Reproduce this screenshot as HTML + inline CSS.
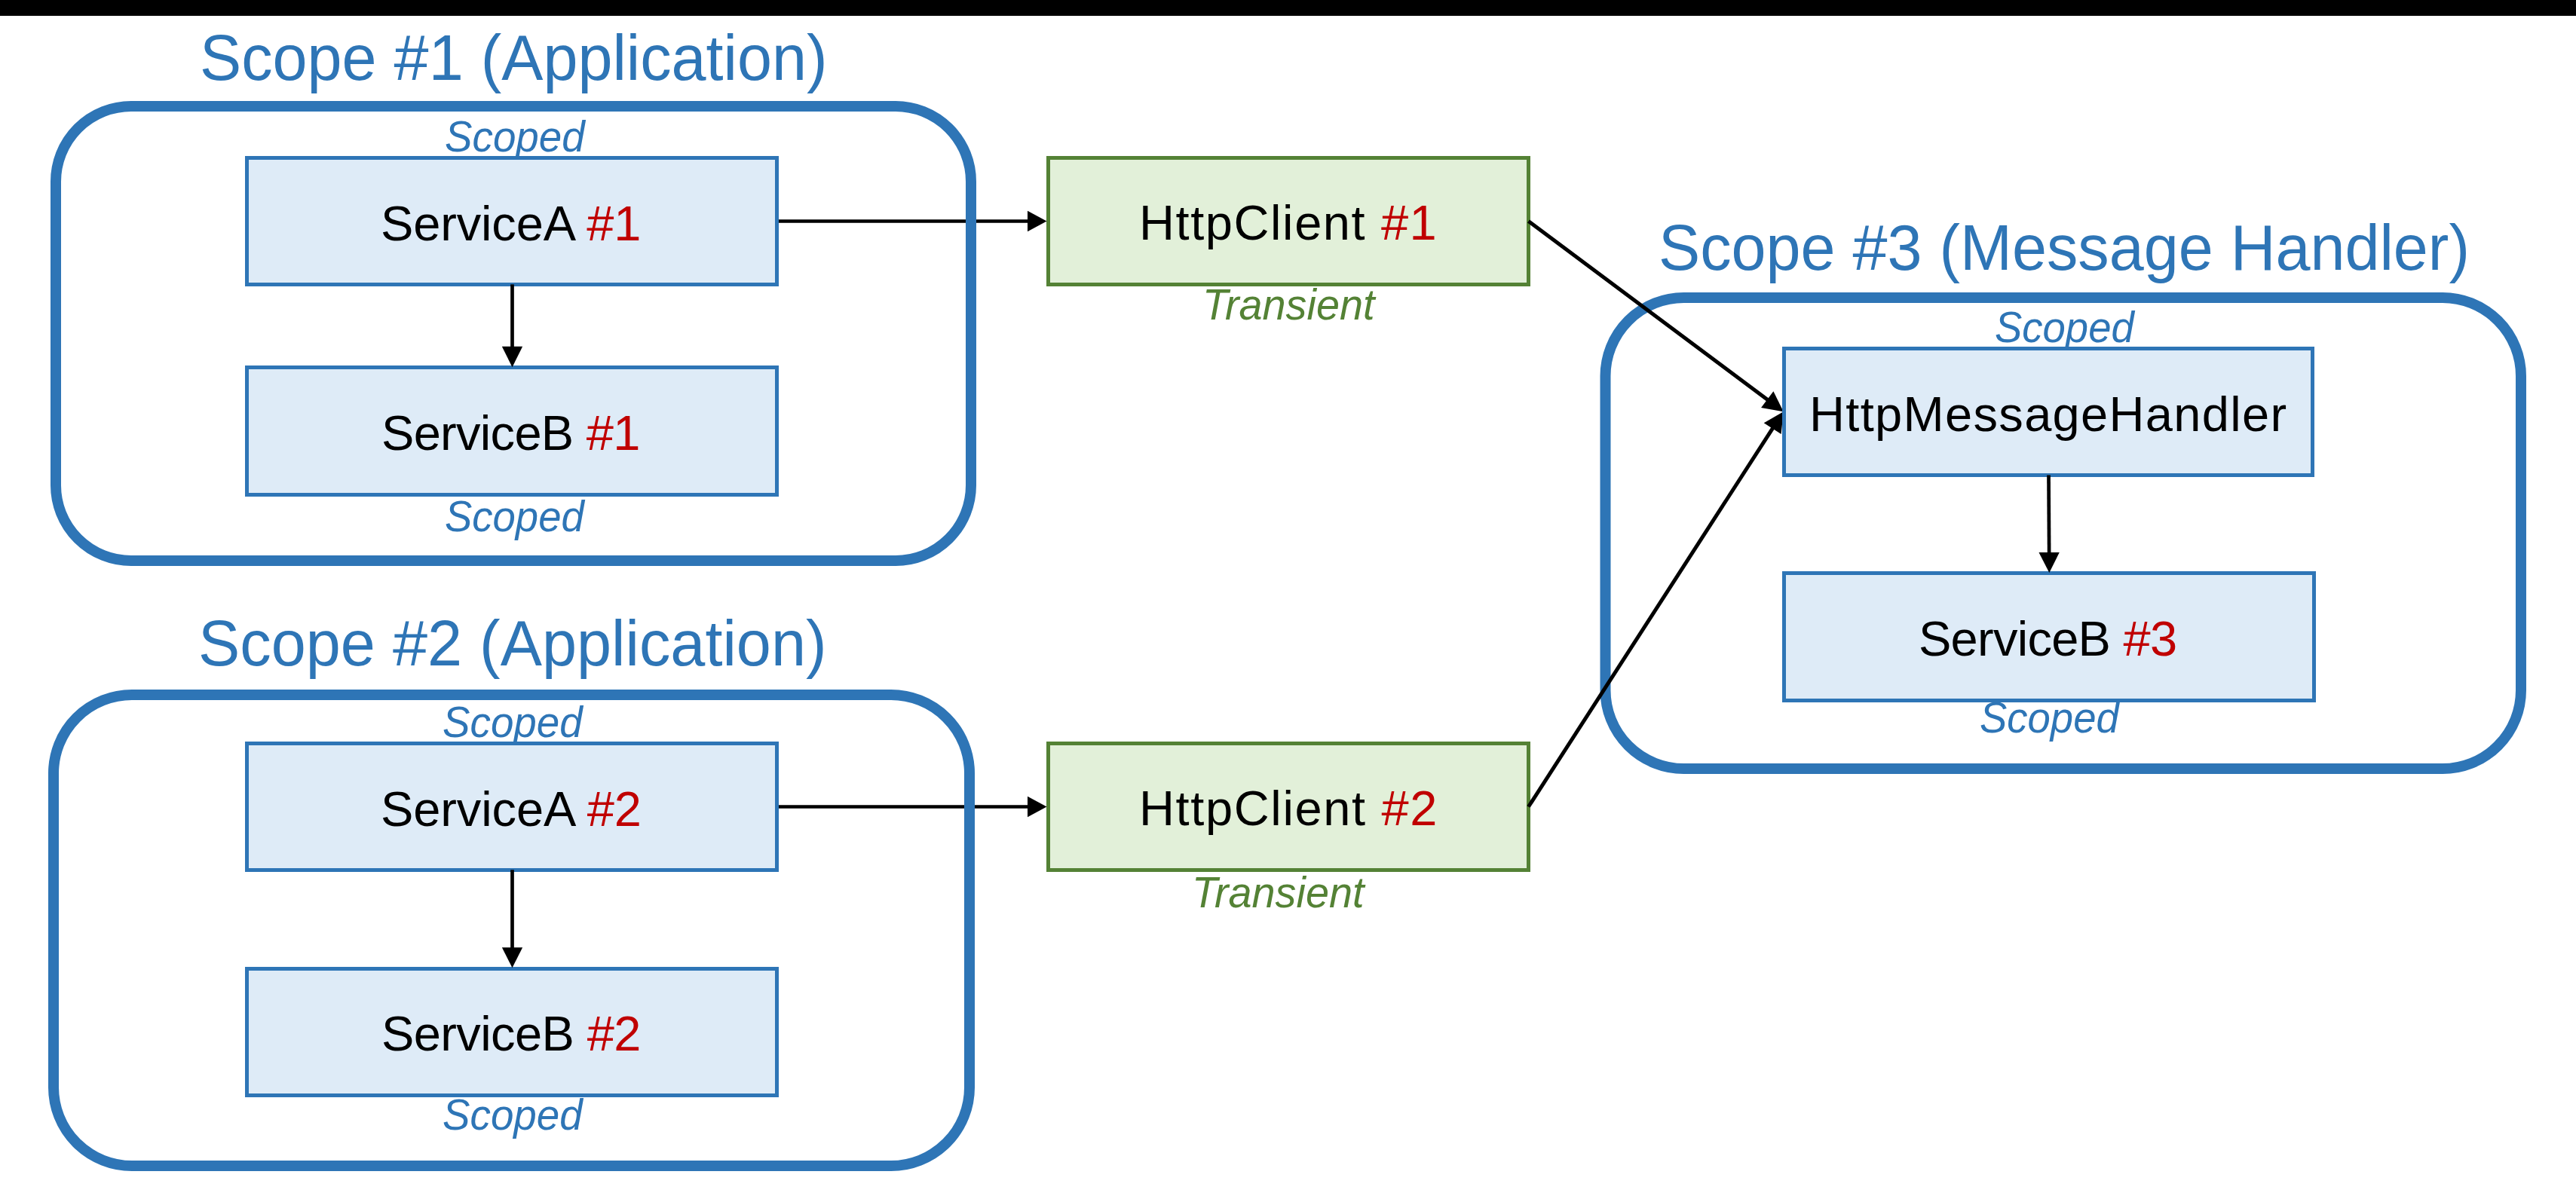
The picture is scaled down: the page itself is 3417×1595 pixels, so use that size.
<!DOCTYPE html>
<html><head><meta charset="utf-8"><style>
html,body{margin:0;padding:0;background:#fff;width:3417px;height:1595px;overflow:hidden}
svg{display:block;font-family:"Liberation Sans",sans-serif}
</style></head><body>
<svg width="3417" height="1595" viewBox="0 0 3417 1595">
<rect x="0" y="0" width="3417" height="21" fill="#000"/>
<text id="t1" x="265.0" y="106" font-size="84.8" fill="#2E75B6" style="" textLength="832.59" lengthAdjust="spacingAndGlyphs">Scope #1 (Application)</text>
<text id="t2" x="263.0" y="882.8" font-size="84.8" fill="#2E75B6" style="" textLength="833.59" lengthAdjust="spacingAndGlyphs">Scope #2 (Application)</text>
<text id="t3" x="2200.0" y="358" font-size="84.8" fill="#2E75B6" style="" textLength="1075.95" lengthAdjust="spacingAndGlyphs">Scope #3 (Message Handler)</text>
<text id="s1t" x="590.0" y="201.2" font-size="58" fill="#2E75B6" style="font-style:italic;" textLength="185.72" lengthAdjust="spacingAndGlyphs">Scoped</text>
<text id="s1b" x="590.0" y="704.6" font-size="58" fill="#2E75B6" style="font-style:italic;" textLength="184.72" lengthAdjust="spacingAndGlyphs">Scoped</text>
<text id="s2t" x="587.0" y="978.3" font-size="58" fill="#2E75B6" style="font-style:italic;" textLength="185.72" lengthAdjust="spacingAndGlyphs">Scoped</text>
<text id="s2b" x="587.0" y="1499.4" font-size="58" fill="#2E75B6" style="font-style:italic;" textLength="185.72" lengthAdjust="spacingAndGlyphs">Scoped</text>
<text id="s3t" x="2646.0" y="454.4" font-size="58" fill="#2E75B6" style="font-style:italic;" textLength="184.72" lengthAdjust="spacingAndGlyphs">Scoped</text>
<text id="s3b" x="2626.0" y="972.3" font-size="58" fill="#2E75B6" style="font-style:italic;" textLength="184.72" lengthAdjust="spacingAndGlyphs">Scoped</text>
<text id="tr1" x="1595.0" y="424.2" font-size="58" fill="#548235" style="font-style:italic;" textLength="228.47" lengthAdjust="spacingAndGlyphs">Transient</text>
<text id="tr2" x="1581.0" y="1204.2" font-size="58" fill="#548235" style="font-style:italic;" textLength="228.47" lengthAdjust="spacingAndGlyphs">Transient</text>
<line x1="1033" y1="293.5" x2="1364.0" y2="293.5" stroke="#000" stroke-width="4.7"/>
<line x1="1033" y1="1070.5" x2="1364.0" y2="1070.5" stroke="#000" stroke-width="4.7"/>
<rect x="74" y="141" width="1214" height="603" rx="100" ry="100" fill="none" stroke="#2E75B6" stroke-width="14"/>
<rect x="71" y="922" width="1215" height="625" rx="104" ry="104" fill="none" stroke="#2E75B6" stroke-width="14"/>
<rect x="2129.5" y="395" width="1214.5" height="625" rx="104" ry="104" fill="none" stroke="#2E75B6" stroke-width="14"/>
<rect x="327.5" y="209.5" width="703" height="168" fill="#DEEBF7" stroke="#2E75B6" stroke-width="5"/>
<rect x="327.5" y="487.5" width="703" height="169" fill="#DEEBF7" stroke="#2E75B6" stroke-width="5"/>
<rect x="327.5" y="986.5" width="703" height="168" fill="#DEEBF7" stroke="#2E75B6" stroke-width="5"/>
<rect x="327.5" y="1285.5" width="703" height="168" fill="#DEEBF7" stroke="#2E75B6" stroke-width="5"/>
<rect x="1390.5" y="209.5" width="637" height="168" fill="#E2F0D9" stroke="#548235" stroke-width="5"/>
<rect x="1390.5" y="986.5" width="637" height="168" fill="#E2F0D9" stroke="#548235" stroke-width="5"/>
<polygon points="1388.50,293.50 1363.00,307.15 1363.00,279.85" fill="#000"/>
<polygon points="1388.50,1070.50 1363.00,1084.15 1363.00,1056.85" fill="#000"/>
<line x1="679.5" y1="377.4" x2="679.5" y2="460.7" stroke="#000" stroke-width="4.7"/><polygon points="679.50,487.30 665.85,459.70 693.15,459.70" fill="#000"/>
<line x1="679.5" y1="1154.3" x2="679.5" y2="1258.2" stroke="#000" stroke-width="4.7"/><polygon points="679.50,1284.20 665.85,1257.20 693.15,1257.20" fill="#000"/>
<line x1="2027.5" y1="293.5" x2="2345.032166701881" y2="530.7571807379228" stroke="#000" stroke-width="5"/><polygon points="2365.70,546.20 2336.06,541.09 2352.40,519.22" fill="#000"/>
<line x1="2027.5" y1="1070.5" x2="2351.7148221946595" y2="567.8807472600236" stroke="#000" stroke-width="5"/><polygon points="2365.70,546.20 2362.64,576.12 2339.70,561.32" fill="#000"/>
<rect x="2366.5" y="462.5" width="701" height="168" fill="#DEEBF7" stroke="#2E75B6" stroke-width="5"/>
<rect x="2366.5" y="760.5" width="703" height="169" fill="#DEEBF7" stroke="#2E75B6" stroke-width="5"/>
<line x1="2717.5" y1="630.5" x2="2718.1393853041077" y2="734.0004961024357" stroke="#000" stroke-width="4.7"/><polygon points="2718.30,760.00 2704.48,733.08 2731.78,732.92" fill="#000"/>
<text id="sa1" x="505.0" y="318.9" font-size="65" fill="#000" style="" textLength="345.29" lengthAdjust="spacing">ServiceA <tspan fill='#C00000'>#1</tspan></text>
<text id="sb1" x="506.0" y="596.7" font-size="65" fill="#000" style="" textLength="343.47" lengthAdjust="spacing">ServiceB <tspan fill='#C00000'>#1</tspan></text>
<text id="sa2" x="505.0" y="1095.9" font-size="65" fill="#000" style="" textLength="345.89" lengthAdjust="spacing">ServiceA <tspan fill='#C00000'>#2</tspan></text>
<text id="sb2" x="506.0" y="1393.6" font-size="65" fill="#000" style="" textLength="344.47" lengthAdjust="spacing">ServiceB <tspan fill='#C00000'>#2</tspan></text>
<text id="hc1" x="1511.0" y="318" font-size="65" fill="#000" style="" textLength="394.77" lengthAdjust="spacing">HttpClient <tspan fill='#C00000'>#1</tspan></text>
<text id="hc2" x="1511.0" y="1094.9" font-size="65" fill="#000" style="" textLength="395.37" lengthAdjust="spacing">HttpClient <tspan fill='#C00000'>#2</tspan></text>
<text id="hmh" x="2400.0" y="571.8" font-size="65" fill="#000" style="" textLength="633.19" lengthAdjust="spacing">HttpMessageHandler</text>
<text id="sb3" x="2545.0" y="869.9" font-size="65" fill="#000" style="" textLength="343.07" lengthAdjust="spacing">ServiceB <tspan fill='#C00000'>#3</tspan></text>
</svg></body></html>
